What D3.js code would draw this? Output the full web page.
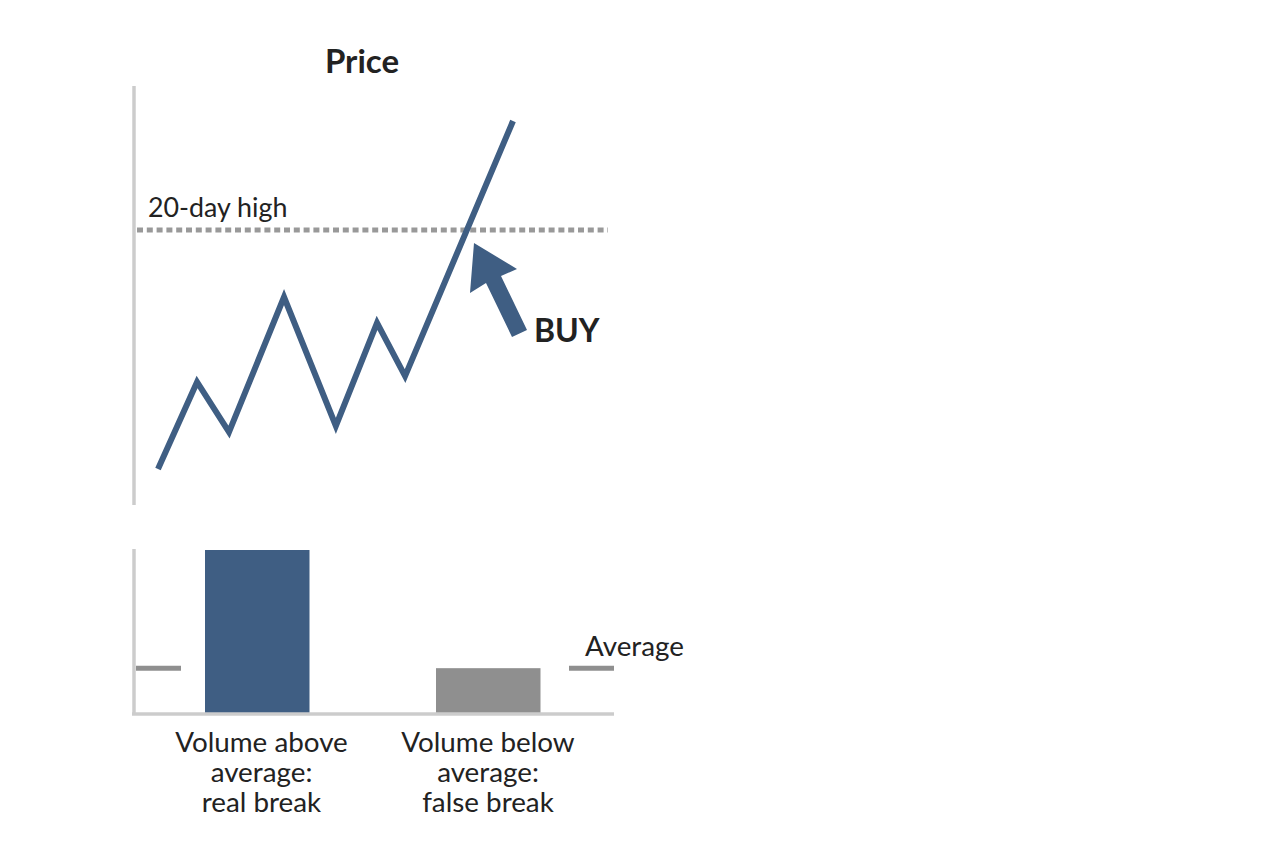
<!DOCTYPE html>
<html>
<head>
<meta charset="utf-8">
<script src="https://cdn.jsdelivr.net/npm/d3@7"></script>
<style>
  html, body { margin: 0; padding: 0; background: #fff; }
  text { font-family: Lato, sans-serif; fill: #222; }
</style>
</head>
<body>
<div id="container"></div>
<script>
// price line, on a 0-100 scale (no real units in the picture)
const priceDay = [0, 11, 20, 35.5, 50.1, 61.7, 69.6, 100];
const priceVal = [0, 25, 10.6, 49.4, 12.4, 42, 26.7, 100];
const highLevel = 68.7;

const volumeCats = ["above", "below"];
const volumeVals = [100, 27.5];
const averageVal = 27.5;

const labelsAbove = ["Volume above", "average:", "real break"];
const labelsBelow = ["Volume below", "average:", "false break"];

const w = 1264, h = 848;
const blue = "#3f5e83", grey = "#8f8f8f", axis = "#cccccc";

let viz = d3.select("#container").append("svg")
    .attr("width", w)
    .attr("height", h)
    .style("display", "block");

let x = d3.scaleLinear().domain([0, 100]).range([158, 513]);
let y = d3.scaleLinear().domain([0, 100]).range([469, 121]);

// price panel
viz.append("line").attr("x1", 134).attr("x2", 134).attr("y1", 86).attr("y2", 505)
  .attr("stroke", axis).attr("stroke-width", 3.5);

viz.append("text").attr("x", 362).attr("y", 73).attr("text-anchor", "middle")
  .attr("font-size", 33).attr("font-weight", 700).text("Price");

viz.append("line").attr("x1", 137).attr("x2", 608).attr("y1", y(highLevel)).attr("y2", y(highLevel))
  .attr("stroke", "#999").attr("stroke-width", 5).attr("stroke-dasharray", "6 3.8");

viz.append("text").attr("x", 148).attr("y", 217).attr("font-size", 26.8).text("20-day high");

let line = d3.line().x(d => x(d[0])).y(d => y(d[1]));
viz.append("path")
  .datum(priceDay.map((d, i) => [d, priceVal[i]]))
  .attr("d", line)
  .attr("fill", "none")
  .attr("stroke", blue)
  .attr("stroke-width", 6);

// buy arrow
viz.append("path")
  .attr("d", "M474,243 L517,269 L501,276 L527,330 L512,337 L486,283 L470,293 Z")
  .attr("fill", blue);

viz.append("text").attr("x", 534).attr("y", 342).attr("font-size", 32).attr("font-weight", 700).text("BUY");

// volume panel
let yVol = d3.scaleLinear().domain([0, 100]).range([713, 550]);
let xVol = d3.scaleOrdinal().domain(volumeCats).range([205, 436]);

viz.selectAll(".bar").data(volumeVals).enter().append("rect")
  .attr("class", "bar")
  .attr("x", (d, i) => xVol(volumeCats[i]))
  .attr("y", d => yVol(d))
  .attr("width", 104.5)
  .attr("height", d => yVol(0) - yVol(d))
  .attr("fill", (d, i) => i == 0 ? blue : grey);

viz.append("line").attr("x1", 134).attr("x2", 134).attr("y1", 549).attr("y2", 715)
  .attr("stroke", axis).attr("stroke-width", 3.5);
viz.append("line").attr("x1", 132).attr("x2", 614).attr("y1", 714).attr("y2", 714)
  .attr("stroke", axis).attr("stroke-width", 3.5);

[[136, 181], [569, 614]].forEach(s => {
  viz.append("line").attr("x1", s[0]).attr("x2", s[1]).attr("y1", yVol(averageVal)).attr("y2", yVol(averageVal))
    .attr("stroke", grey).attr("stroke-width", 5);
});

viz.append("text").attr("x", 585).attr("y", 656).attr("font-size", 27.8).text("Average");

[[261.5, labelsAbove], [488, labelsBelow]].forEach(g => {
  g[1].forEach((t, i) => {
    viz.append("text").attr("x", g[0]).attr("y", 752 + i * 30).attr("text-anchor", "middle")
      .attr("font-size", 27.8).text(t);
  });
});
</script>
</body>
</html>
